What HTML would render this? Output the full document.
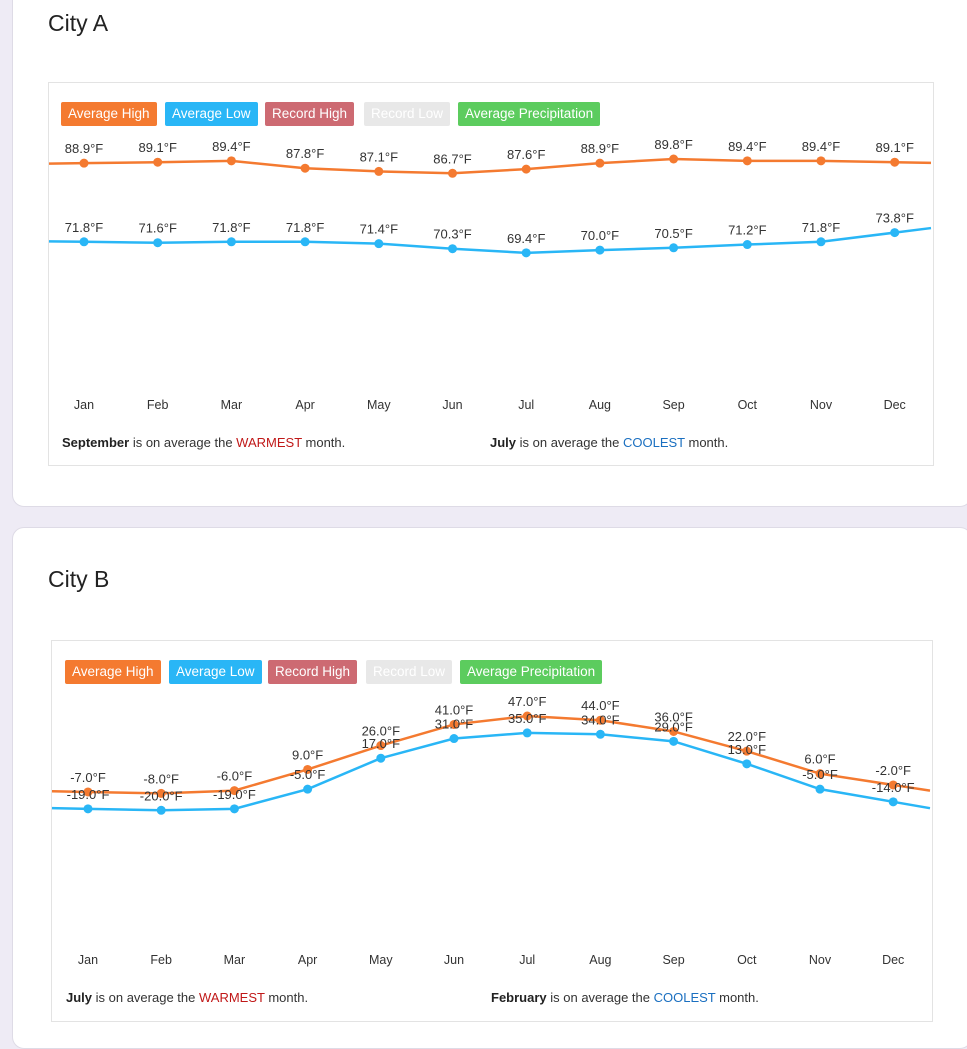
<!DOCTYPE html>
<html><head><meta charset="utf-8">
<style>
body{margin:0;width:967px;height:1024px;background:#eeebf5;font-family:"Liberation Sans",Arial,sans-serif;overflow:hidden;position:relative;color:#333}
.card{position:absolute;left:12px;width:958px;background:#fff;border:1px solid #dedbe6;border-radius:12px}
.title{position:absolute;left:48px;font-size:23px;color:#222}
.box{position:absolute;background:#fff;border:1px solid #e3e3e3}
.leg{position:absolute;height:24px;line-height:24px;color:#fff;font-size:13.5px;padding:0 7px;border-radius:2px;white-space:nowrap}
.foot{position:absolute;font-size:13px;color:#333}
.foot b{color:#222}
.warm{color:#c01818}.cool{color:#1a6fc0}
svg{position:absolute;left:0;top:0}
</style></head><body>
<div class="card" style="top:-20px;height:525px"></div>
<div class="card" style="top:527px;height:520px"></div>
<div class="title" style="top:10px">City A</div>
<div class="title" style="top:566px">City B</div>
<div class="box" style="left:48px;top:82px;width:884px;height:382px"></div>
<div class="box" style="left:51px;top:640px;width:880px;height:380px"></div>

<div class="leg" style="left:61px;top:102px;background:#f47a30">Average High</div>
<div class="leg" style="left:165px;top:102px;background:#29b6f6">Average Low</div>
<div class="leg" style="left:265px;top:102px;background:#cd6a72">Record High</div>
<div class="leg" style="left:364px;top:102px;background:#e8e8e8">Record Low</div>
<div class="leg" style="left:458px;top:102px;background:#5ccc5e">Average Precipitation</div>

<div class="leg" style="left:65px;top:660px;background:#f47a30">Average High</div>
<div class="leg" style="left:169px;top:660px;background:#29b6f6">Average Low</div>
<div class="leg" style="left:268px;top:660px;background:#cd6a72">Record High</div>
<div class="leg" style="left:366px;top:660px;background:#e8e8e8">Record Low</div>
<div class="leg" style="left:460px;top:660px;background:#5ccc5e">Average Precipitation</div>

<div class="foot" style="left:62px;top:435px"><b>September</b> is on average the <span class="warm">WARMEST</span> month.</div>
<div class="foot" style="left:490px;top:435px"><b>July</b> is on average the <span class="cool">COOLEST</span> month.</div>
<div class="foot" style="left:66px;top:990px"><b>July</b> is on average the <span class="warm">WARMEST</span> month.</div>
<div class="foot" style="left:491px;top:990px"><b>February</b> is on average the <span class="cool">COOLEST</span> month.</div>

<svg id="chart" width="967" height="1024"></svg>
<script>
const months=["Jan","Feb","Mar","Apr","May","Jun","Jul","Aug","Sep","Oct","Nov","Dec"];
const highA=[88.9,89.1,89.4,87.8,87.1,86.7,87.6,88.9,89.8,89.4,89.4,89.1];
const lowA=[71.8,71.6,71.8,71.8,71.4,70.3,69.4,70.0,70.5,71.2,71.8,73.8];
const highB=[-7,-8,-6,9,26,41,47,44,36,22,6,-2];
const lowB=[-19,-20,-19,-5,17,31,35,34,29,13,-5,-14];
const NS="http://www.w3.org/2000/svg";
const svg=document.getElementById('chart');
function mk(t,a){const e=document.createElementNS(NS,t);for(const k in a)e.setAttribute(k,a[k]);svg.appendChild(e);return e;}
function draw(cfg){
  const xs=i=>cfg.x0+i*cfg.dx;
  const ys=v=>cfg.yRef+(cfg.vRef-v)*cfg.k;
  cfg.series.forEach((s,si)=>{
    const v=s.vals,n=v.length;
    const pts=v.map((d,i)=>[xs(i),ys(d)]);
    const l0=cfg.left,r0=cfg.right;
    const yl=pts[0][1]-(pts[1][1]-pts[0][1])*(pts[0][0]-l0)/cfg.dx;
    const yr=pts[n-1][1]+(pts[n-1][1]-pts[n-2][1])*(r0-pts[n-1][0])/cfg.dx;
    const all=[[l0,yl],...pts,[r0,yr]];
    const p=mk('polyline',{points:all.map(q=>q.join(',')).join(' '),fill:'none',stroke:s.color,'stroke-width':2.5});
    
    
    pts.forEach((q,i)=>{
      const c=mk('circle',{cx:q[0],cy:q[1],r:4.5,fill:s.color});
      
      
    });
    pts.forEach((q,i)=>{
      const t=mk('text',{x:q[0],y:q[1]-10,'text-anchor':'middle','font-size':13,fill:'#333','font-family':'Liberation Sans, Arial, sans-serif'});
      t.textContent=v[i].toFixed(1)+'°F';
      
      
    });
  });
  months.forEach((m,i)=>{
    const t=mk('text',{x:xs(i),y:cfg.monthY,'text-anchor':'middle','font-size':12.5,fill:'#333','font-family':'Liberation Sans, Arial, sans-serif'});
    t.textContent=m;
    
    
  });
}
draw({id:'city-a',x0:84,dx:73.7,left:49,right:931,yRef:159,vRef:89.8,k:4.6,monthY:409,
  series:[{name:'city-a-average-high',vals:highA,color:'#f47a30'},{name:'city-a-average-low',vals:lowA,color:'#29b6f6'}]});
draw({id:'city-b',x0:88,dx:73.2,left:52,right:930,yRef:716,vRef:47,k:1.407,monthY:964,
  series:[{name:'city-b-average-high',vals:highB,color:'#f47a30'},{name:'city-b-average-low',vals:lowB,color:'#29b6f6'}]});
</script>
</body></html>
